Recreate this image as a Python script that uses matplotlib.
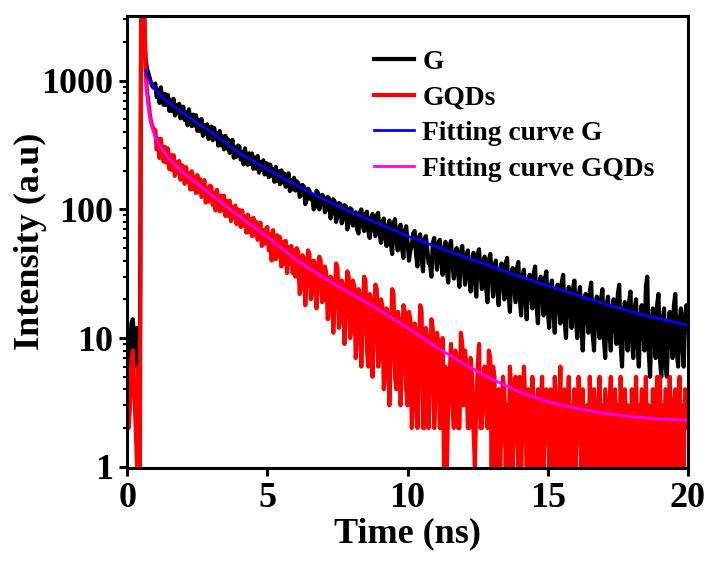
import numpy as np
import matplotlib
matplotlib.use("Agg")
import matplotlib.pyplot as plt
from matplotlib import ticker

plt.rcParams['font.family'] = ['Liberation Serif', 'DejaVu Serif']
plt.rcParams['font.weight'] = 'bold'
plt.rcParams['axes.labelweight'] = 'bold'

# decay histograms, 0.05 ns bins from 0 to 20 ns (counts), one row per ns
time_ns = np.round(np.arange(0, 20.025, 0.05), 3)

counts_g = [
    11, 6, 8, 13, 14, 9, 6, 12, 10, 5, 6000, 8000, 3000, 1500, 1250, 1150, 1050, 960, 900, 880,
    952, 747, 852, 673, 889, 717, 649, 792, 647, 775, 583, 711, 581, 724, 537, 650, 560, 662, 510, 627,
    627, 495, 568, 451, 600, 487, 444, 545, 448, 540, 409, 497, 406, 504, 373, 452, 388, 458, 353, 432,
    440, 345, 431, 352, 393, 313, 407, 315, 370, 293, 373, 298, 350, 275, 292, 347, 252, 306, 257, 314,
    308, 244, 280, 224, 298, 243, 222, 273, 225, 272, 207, 253, 208, 260, 193, 234, 203, 241, 187, 229,
    226, 178, 223, 183, 206, 164, 214, 167, 198, 157, 201, 162, 190, 150, 160, 191, 139, 169, 143, 176,
    140, 165, 160, 125, 130, 155, 150, 110, 118, 145, 140, 120, 125, 100, 105, 140, 135, 100, 110, 130,
    125, 95, 100, 125, 122, 85, 95, 120, 115, 80, 90, 112, 110, 78, 85, 108, 105, 70, 80, 102,
    100, 75, 88, 95, 70, 65, 95, 100, 75, 68, 92, 96, 68, 60, 85, 92, 72, 62, 90, 94,
    65, 55, 80, 85, 60, 52, 72, 82, 55, 45, 78, 84, 58, 48, 70, 76, 50, 42, 68, 74,
    56, 40, 48, 52, 65, 68, 45, 36, 60, 64, 42, 33, 58, 62, 50, 38, 38, 30, 55, 60,
    44, 34, 55, 58, 40, 31, 48, 56, 34, 27, 52, 57, 38, 29, 45, 50, 32, 25, 47, 52,
    36, 26, 44, 48, 30, 23, 40, 46, 28, 21, 45, 49, 33, 24, 38, 43, 25, 19, 40, 45,
    30, 21, 36, 40, 24, 18, 33, 38, 27, 20, 38, 42, 22, 16, 30, 35, 26, 19, 35, 39,
    21, 15, 30, 34, 20, 14, 27, 31, 23, 17, 32, 36, 18, 13, 26, 30, 22, 15, 29, 33,
    17, 12, 25, 28, 16, 11, 22, 26, 19, 13, 27, 31, 14, 10, 21, 25, 17, 12, 24, 28,
    15, 10, 21, 25, 12, 8, 19, 22, 15, 11, 23, 27, 11, 8, 17, 21, 14, 10, 20, 24,
    10, 7, 18, 21, 11, 8, 16, 20, 13, 9, 22, 26, 9, 6, 15, 19, 12, 8, 19, 23,
    10, 7, 17, 20, 9, 6, 14, 18, 12, 8, 25, 30, 8, 5, 13, 17, 11, 7, 18, 22,
    7, 5, 14, 17, 6, 5, 12, 16, 10, 7, 18, 22, 8, 6, 13, 17, 9, 6, 15, 18,
    11,
]

counts_gqds = [
    5, 2, 3, 7, 8, 4, 2, 1, 6, 1, 8000, 9000, 5000, 1300, 850, 700, 560, 480, 440, 420,
    414, 292, 352, 251, 354, 267, 235, 306, 231, 298, 206, 265, 202, 264, 182, 234, 191, 238, 170, 221,
    215, 158, 213, 163, 192, 143, 198, 144, 180, 134, 185, 136, 172, 125, 134, 169, 113, 148, 115, 153,
    150, 108, 134, 98, 142, 109, 97, 128, 98, 128, 89, 116, 89, 117, 81, 105, 86, 107, 77, 100,
    99, 73, 98, 75, 88, 66, 91, 67, 84, 62, 86, 63, 80, 58, 63, 79, 52, 69, 54, 71,
    73, 48, 64, 40, 69, 49, 41, 63, 43, 61, 36, 56, 38, 57, 32, 51, 38, 52, 32, 48,
    30, 50, 46, 22, 25, 44, 42, 18, 28, 48, 45, 20, 22, 40, 38, 17, 26, 43, 40, 19,
    20, 36, 32, 14, 16, 30, 28, 11, 20, 38, 35, 12, 14, 28, 26, 9, 18, 33, 30, 10,
    12, 28, 25, 7, 10, 24, 22, 6, 15, 30, 28, 8, 6, 22, 20, 5, 12, 26, 24, 6,
    7, 20, 18, 4, 5, 17, 15, 3, 9, 24, 22, 5, 4, 16, 14, 3, 7, 18, 16, 4,
    3, 16, 14, 2, 3, 13, 11, 2, 6, 18, 16, 2, 2, 12, 10, 2, 5, 14, 12, 2,
    4, 11, 9, 2, 2, 10, 1, 6, 1, 3, 5, 9, 3, 2, 8, 7, 2, 2, 11, 9,
    3, 8, 6, 2, 2, 7, 5, 2, 1, 3, 6, 9, 2, 2, 5, 6, 3, 2, 8, 7,
    1, 6, 5, 1, 3, 4, 1, 2, 5, 4, 1, 3, 1, 6, 4, 1, 3, 5, 2, 1,
    5, 1, 2, 6, 3, 1, 4, 2, 1, 5, 3, 1, 2, 4, 1, 3, 5, 1, 2, 4,
    3, 1, 4, 2, 1, 5, 3, 1, 2, 6, 1, 3, 4, 1, 2, 5, 1, 3, 1, 4,
    1, 2, 5, 3, 1, 4, 1, 2, 3, 1, 5, 2, 1, 4, 3, 1, 2, 5, 1, 3,
    1, 4, 2, 1, 3, 5, 1, 2, 4, 1, 3, 1, 5, 2, 1, 4, 1, 3, 2, 1,
    4, 1, 2, 5, 1, 3, 1, 4, 2, 1, 5, 1, 3, 2, 1, 4, 1, 2, 5, 1,
    5, 1, 3, 1, 4, 2, 1, 5, 2, 1, 3, 4, 1, 2, 5, 1, 3, 1, 4, 2,
    2,
]

# fitted decay curves
fit_g_t = [0.65, 0.7, 0.8, 0.9, 1.0, 1.2, 1.5, 2.0, 2.5, 3, 3.5, 4, 5, 6, 7, 8,
           9, 10, 11, 12, 13, 14, 15, 16, 17, 18, 19, 20]
fit_g = [1200, 1120, 1010, 920, 850, 760, 670, 560, 470, 400, 330, 275, 205, 155,
         120, 95, 77, 62, 51.5, 43, 36, 30.2, 25.5, 21.7, 18.5, 16, 14.1, 12.6]

fit_gqds_t = [0.65, 0.7, 0.75, 0.8, 0.9, 1.0, 1.2, 1.4, 1.7, 2.0, 2.5, 3, 3.5, 4,
              5, 6, 7, 8, 9, 10, 11, 12, 13, 14, 15, 16, 17, 18, 19, 20]
fit_gqds = [1000, 780, 620, 520, 420, 360, 300, 262, 222, 192, 158, 130, 107, 88,
            61, 41, 29.5, 22, 16.5, 12, 8.6, 6.3, 4.8, 3.8, 3.2, 2.85, 2.6, 2.45,
            2.35, 2.3]

fig = plt.figure(figsize=(7.07, 5.63), dpi=100)
ax = fig.add_axes([0.18, 0.169, 0.793, 0.803])

ax.plot(time_ns, counts_g, color='black', lw=3.0, label='G')
ax.plot(time_ns, counts_gqds, color='#ff0000', lw=3.0, label='GQDs')
ax.plot(fit_g_t, fit_g, color='#0000ff', lw=2.0, label='Fitting curve G')
ax.plot(fit_gqds_t, fit_gqds, color='#ff00ff', lw=2.0, label='Fitting curve GQDs')

ax.set_yscale('log')
ax.set_xlim(0, 20)
ax.set_ylim(0.98, 3200)
ax.set_xticks([0, 5, 10, 15, 20])
ax.set_yticks([1, 10, 100, 1000])
ax.yaxis.set_major_formatter(ticker.FuncFormatter(lambda v, p: f"{v:g}"))
ax.yaxis.set_minor_locator(ticker.LogLocator(base=10, subs=np.arange(2, 10)))
ax.yaxis.set_minor_formatter(ticker.NullFormatter())

ax.tick_params(axis='both', which='major', direction='out', length=6, width=2.2,
               labelsize=26, pad=4)
ax.tick_params(axis='y', which='minor', direction='out', length=3, width=1.5)
for s in ax.spines.values():
    s.set_linewidth(2.2)

ax.set_xlabel('Time (ns)', fontsize=26, labelpad=2)
ax.set_ylabel('Intensity (a.u)', fontsize=26, labelpad=-4)

leg = ax.legend(loc='upper left', bbox_to_anchor=(0.421, 0.95), frameon=False,
                fontsize=19.8, handlelength=1.45, handletextpad=0.3,
                labelspacing=0.38, borderaxespad=0)

fig.savefig('out.png', dpi=100)
